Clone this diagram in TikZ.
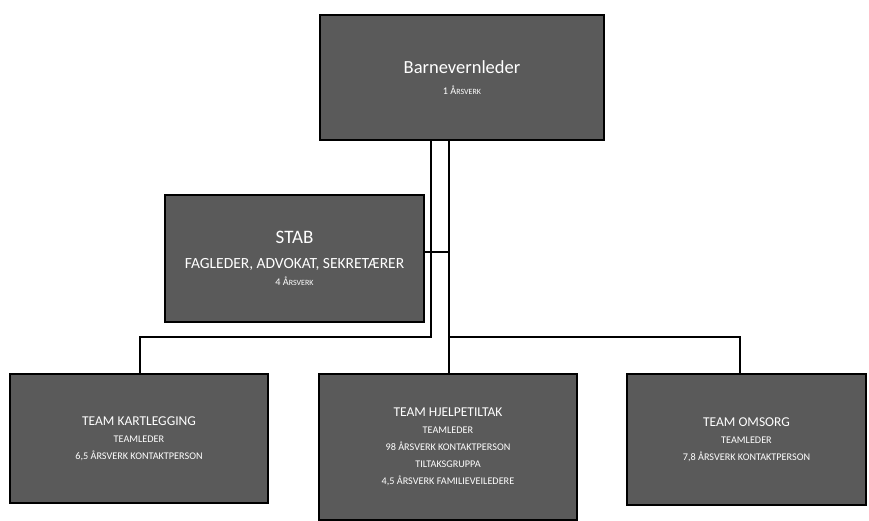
\documentclass[tikz,border=0pt]{standalone}
\usepackage{fontspec}
\setmainfont{Carlito}
\usepackage{xcolor}
\definecolor{boxgray}{HTML}{5A5A5A}

\tikzset{
  unit/.style={draw=black, line width=2pt, fill=boxgray, text=white,
    align=center, inner sep=0pt, font=\fontsize{10.2}{17}\selectfont},
  link/.style={line width=2pt, line cap=rect}
}

\begin{document}
\begin{tikzpicture}[x=1pt, y=-1pt]
  \useasboundingbox (0,0) rectangle (869,520);

  \node[unit, minimum width=284pt, minimum height=125pt] (leder) at (462,77.5)
    {{\fontsize{18.5}{20}\selectfont Barnevernleder}\\[4pt] 1 Å{\fontsize{8}{10}\selectfont RSVERK}};
  \node[unit, minimum width=259pt, minimum height=127pt] (stab) at (294.5,258.5)
    {{\fontsize{19}{21}\selectfont STAB}\\[8pt] {\fontsize{15.5}{16}\selectfont FAGLEDER, ADVOKAT, SEKRETÆRER}\\[0pt] 4 Å{\fontsize{8}{10}\selectfont RSVERK}};

  \node[unit, minimum width=258pt, minimum height=129pt] (kart) at (139,438.5)
    {{\fontsize{13.5}{15}\selectfont TEAM KARTLEGGING}\\ TEAMLEDER\\ 6,5 ÅRSVERK KONTAKTPERSON};
  \node[unit, minimum width=258pt, minimum height=146pt] (hjelp) at (448,447)
    {{\fontsize{13.5}{15}\selectfont TEAM HJELPETILTAK}\\ TEAMLEDER\\ 98 ÅRSVERK KONTAKTPERSON\\ TILTAKSGRUPPA\\ 4,5 ÅRSVERK FAMILIEVEILEDERE};
  \node[unit, minimum width=239pt, minimum height=131pt] (omsorg) at (746.5,439.5)
    {{\fontsize{13.5}{15}\selectfont TEAM OMSORG}\\ TEAMLEDER\\ 7,8 ÅRSVERK KONTAKTPERSON};

  % joints of the lines
  \coordinate (l1) at (431,140);
  \coordinate (l2) at (431,337);
  \coordinate (k1) at (140,337);
  \coordinate (r1) at (449,140);
  \coordinate (r2) at (449,337);
  \coordinate (o1) at (740,337);
  \coordinate (o2) at (740,374);
  \coordinate (s1) at (449,252);

  \draw[link] (l1) -- (l2) -- (k1) -- (kart.north -| k1);
  \draw[link] (r1) -- (hjelp.north -| r1);
  \draw[link] (r2) -- (o1) -- (o2);
  \draw[link] (stab.east |- s1) -- (s1);
\end{tikzpicture}
\end{document}
